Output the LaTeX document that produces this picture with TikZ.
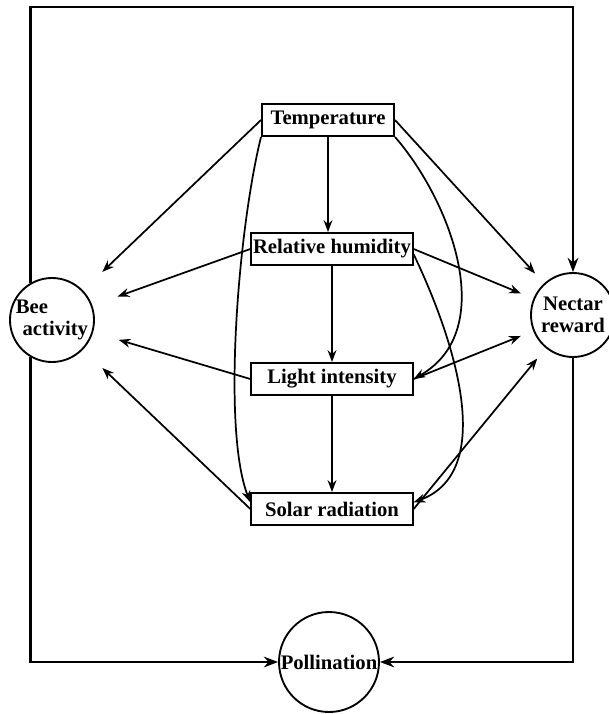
\documentclass[tikz,border=0pt]{standalone}
\usepackage{fontspec}
\setmainfont{Liberation Serif}
\usetikzlibrary{arrows.meta,positioning}

\begin{document}
\begin{tikzpicture}[x=0.75pt, y=-0.75pt, >=Stealth,
  font=\fontsize{15.5}{16.5}\selectfont\bfseries,
  factor/.style={draw, rectangle, line width=1.5pt, minimum height=24pt, inner xsep=1pt},
  bubble/.style={draw, circle, line width=1.4pt, inner sep=0pt},
  link/.style={->, line width=1.3pt},
  frame/.style={->, line width=1.7pt}]
  \useasboundingbox (0,0) rectangle (608,714);
  % Weather factors
  \node[factor, minimum width=99pt] (temp) at (328,120) {Temperature};
  \node[factor, minimum width=121pt] (hum) at (332,249) {Relative humidity};
  \node[factor, minimum width=121pt, below=72pt of hum] (light) {Light intensity};
  \node[factor, minimum width=121pt, below=72pt of light] (solar) {Solar radiation};
  % Circles
  \node[bubble, minimum size=63pt, align=left] (bee) at (52,320) {Bee\\\hspace{5pt}activity};
  \node[bubble, minimum size=63pt, align=center] (nectar) at (573,315) {Nectar\\reward};
  \node[bubble, minimum size=75pt] (poll) at (329,662) {Pollination};

  % Down the column
  \draw[link] (temp.south) -- (temp.south |- hum.north);
  \draw[link] (hum) -- (light);
  \draw[link] (light) -- (solar);
  % Towards bee activity and nectar reward
  \foreach \f in {temp,hum,light,solar} {
    \draw[link, shorten >=20pt] (\f.west) -- (bee);
    \draw[link, shorten >=10pt] (\f.east) -- (nectar);
  }
  % Curved links
  \draw[link] (temp.south west) .. controls (238,230) and (222,430) .. ([yshift=5pt]solar.west);
  \draw[link] (temp.south east) .. controls (450,200) and (500,330) .. (light.east);
  \draw[link] ([yshift=-4pt]hum.east) .. controls (450,330) and (500,470) .. ([yshift=5pt]solar.east);

  % Outer loop
  \coordinate (top) at (0,7);
  \draw[frame] (bee.120) -- (bee.120 |- top) -| (nectar.north);
  \draw[frame] (bee.240) |- (poll.west);
  \draw[frame] (nectar.south) |- (poll.east);
\end{tikzpicture}
\end{document}
